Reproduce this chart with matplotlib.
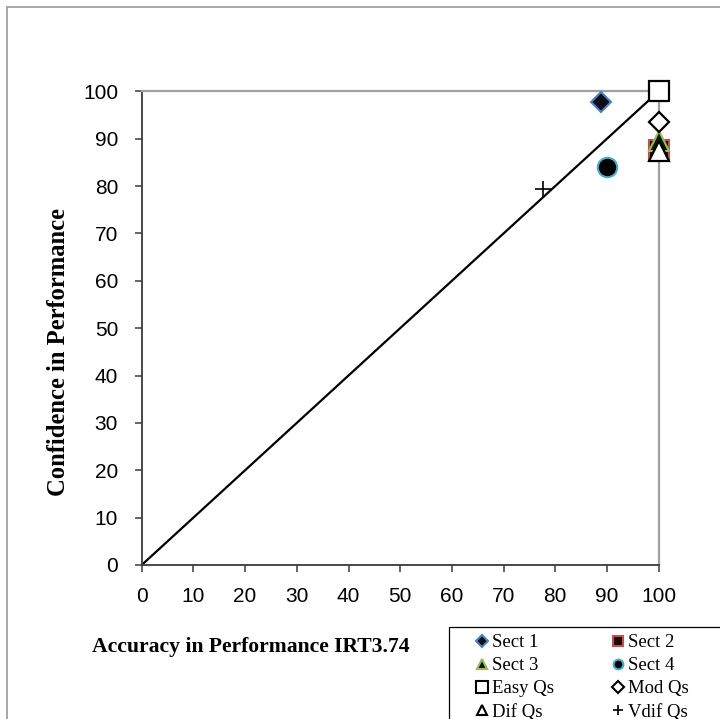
import matplotlib
matplotlib.use("Agg")
import matplotlib.pyplot as plt
from matplotlib.lines import Line2D
from matplotlib.patches import Rectangle

# Accuracy (x) and confidence (y) for each group
labels = ["Sect 1", "Sect 2", "Sect 3", "Sect 4", "Easy Qs", "Mod Qs", "Dif Qs", "Vdif Qs"]
accuracy = [88.8, 100, 100, 90, 100, 100, 100, 77.7]
confidence = [97.7, 87.6, 89.5, 84.1, 100, 93.6, 87.3, 79.3]

# Diagonal of perfect calibration
diag_x = [0, 100]
diag_y = [0, 100]

ticks = list(range(0, 101, 10))

# Marker styles: (marker, face, edge, size, edge width)
styles = [
    ("D", "#0d0d1a", "#4f81bd", 10.5, 1.5),
    ("s", "#1a0a0a", "#c0504d", 14.0, 1.5),
    ("^", "#0a1a0a", "#9bbb59", 15.0, 1.5),
    ("o", "#000000", "#4bacc6", 14.0, 1.5),
    ("s", "white", "black", 14.5, 1.6),
    ("D", "white", "black", 10.0, 1.6),
    ("^", "white", "black", 14.0, 1.6),
    ("+", "black", "black", 12.0, 1.2),
]
legend_sizes = [6, 6.5, 6.5, 7, 8, 6, 7.5, 7.5]

W, H = 720, 719
fig = plt.figure(figsize=(W / 100, H / 100), dpi=100)
fig.patch.set_facecolor("white")

# Outer chart frame
fig.add_artist(Rectangle((7 / W, -0.05), 1.1, 1 - 7 / H + 0.05, transform=fig.transFigure,
                         fill=False, edgecolor="#a0a0a0", linewidth=1.3))

ax = fig.add_axes([141.7 / W, 1 - 565 / H, 517 / W, (565 - 91.3) / H])
ax.set_xlim(0, 100)
ax.set_ylim(0, 100)
ax.set_xticks(ticks)
ax.set_yticks(ticks)

for side in ("top", "right"):
    ax.spines[side].set_color("#a0a0a0")
    ax.spines[side].set_linewidth(1.6)
for side in ("left", "bottom"):
    ax.spines[side].set_color("#3a3a3a")
    ax.spines[side].set_linewidth(1.3)

ax.tick_params(axis="both", direction="out", length=5, width=1.1, color="#3a3a3a",
               labelsize=15, labelfontfamily="Liberation Sans", labelcolor="black")
ax.tick_params(axis="y", pad=12)
ax.tick_params(axis="x", pad=11)

ax.plot(diag_x, diag_y, color="black", linewidth=1.6, zorder=2)

for x, y, (m, fc, ec, ms, mew) in zip(accuracy, confidence, styles):
    ax.plot([x], [y], linestyle="none", marker=m, markersize=ms, markerfacecolor=fc,
            markeredgecolor=ec, markeredgewidth=mew, clip_on=False, zorder=3)

fig.text(92 / W, 1 - 647 / H, "Accuracy in Performance IRT3.74", fontsize=15.6,
         fontweight="bold", family="Liberation Serif", ha="left", va="center")
fig.text(59 / W, 1 - 352 / H, "Confidence in Performance", fontsize=17.7,
         fontweight="bold", family="Liberation Serif", ha="center", va="center",
         rotation=90)

# Legend, laid out row by row in two columns
handles = []
for (m, fc, ec, ms, mew), lms, lab in zip(styles, legend_sizes, labels):
    handles.append(Line2D([], [], linestyle="none", marker=m, markersize=lms,
                          markerfacecolor=fc, markeredgecolor=ec,
                          markeredgewidth=min(mew, 1.5), label=lab))
order = [0, 2, 4, 6, 1, 3, 5, 7]
leg = fig.legend(handles=[handles[i] for i in order], ncol=2, loc="upper left",
                 bbox_to_anchor=(477.3 / W, 1 - 634 / H), frameon=False,
                 prop={"family": "Liberation Serif", "size": 13.5},
                 handlelength=0.5, handletextpad=0.283, columnspacing=3.16,
                 labelspacing=0.32, borderpad=0, borderaxespad=0)
fig.add_artist(Rectangle((449 / W, -0.05), 1.1, 1 - 627 / H + 0.05, transform=fig.transFigure,
                         fill=False, edgecolor="black", linewidth=0.9))

fig.savefig("out.png", dpi=100)
